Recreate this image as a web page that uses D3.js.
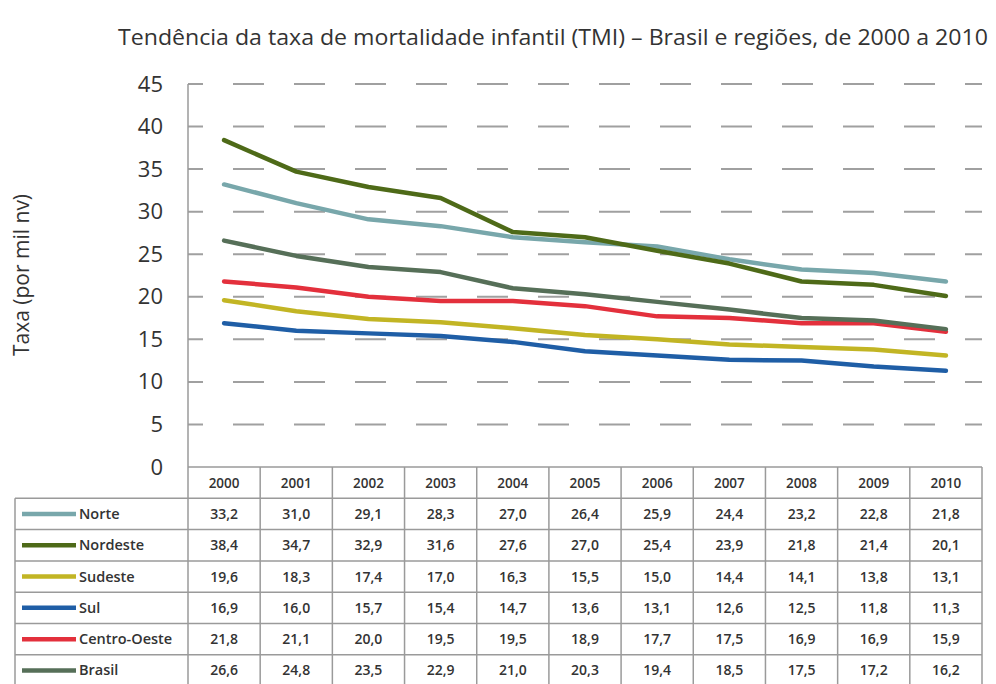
<!DOCTYPE html>
<html>
<head>
<meta charset="utf-8">
<script src="https://cdn.jsdelivr.net/npm/d3@7"></script>
<style>
  body { margin: 0; background: #fff; }
  text { font-family: "Open Sans", "Noto Sans", sans-serif; fill: #333; }
</style>
</head>
<body>
<div id="chart"></div>
<script>
var years = [2000, 2001, 2002, 2003, 2004, 2005, 2006, 2007, 2008, 2009, 2010];
var norte       = [33.2, 31.0, 29.1, 28.3, 27.0, 26.4, 25.9, 24.4, 23.2, 22.8, 21.8];
var nordeste    = [38.4, 34.7, 32.9, 31.6, 27.6, 27.0, 25.4, 23.9, 21.8, 21.4, 20.1];
var sudeste     = [19.6, 18.3, 17.4, 17.0, 16.3, 15.5, 15.0, 14.4, 14.1, 13.8, 13.1];
var sul         = [16.9, 16.0, 15.7, 15.4, 14.7, 13.6, 13.1, 12.6, 12.5, 11.8, 11.3];
var centroOeste = [21.8, 21.1, 20.0, 19.5, 19.5, 18.9, 17.7, 17.5, 16.9, 16.9, 15.9];
var brasil      = [26.6, 24.8, 23.5, 22.9, 21.0, 20.3, 19.4, 18.5, 17.5, 17.2, 16.2];
var seriesNames = ["Norte", "Nordeste", "Sudeste", "Sul", "Centro-Oeste", "Brasil"];
var yTicks = [0, 5, 10, 15, 20, 25, 30, 35, 40, 45];

var series = [
  {name: seriesNames[0], values: norte, color: "#78a7ab"},
  {name: seriesNames[1], values: nordeste, color: "#4e6a18"},
  {name: seriesNames[2], values: sudeste, color: "#c2b524"},
  {name: seriesNames[3], values: sul, color: "#1f5ea6"},
  {name: seriesNames[4], values: centroOeste, color: "#e3303c"},
  {name: seriesNames[5], values: brasil, color: "#566f58"}
];

var width = 996, height = 684;
var plotLeft = 188, plotRight = 982, plotTop = 84, plotBottom = 467;
var rowH = 31.3;
var legendLeft = 15;

var svg = d3.select("#chart").append("svg")
  .attr("width", width)
  .attr("height", height);

var x = d3.scaleBand()
  .domain(years)
  .range([plotLeft, plotRight])
  .padding(0);

var y = d3.scaleLinear()
  .domain([0, 45])
  .range([plotBottom, plotTop]);

var fmt = function (v) { return d3.format(".1f")(v).replace(".", ","); };

// title
svg.append("text")
  .attr("x", 118)
  .attr("y", 45)
  .attr("font-size", "21px")
  .attr("textLength", 870)
  .attr("lengthAdjust", "spacingAndGlyphs")
  .text("Tendência da taxa de mortalidade infantil (TMI) – Brasil e regiões, de 2000 a 2010");

// y axis title
svg.append("text")
  .attr("transform", "translate(29,275) rotate(-90)")
  .attr("text-anchor", "middle")
  .attr("font-size", "21px")
  .text("Taxa (por mil nv)");

// dashed gridlines
svg.append("g")
  .selectAll("line")
  .data(yTicks.filter(d => d > 0))
  .enter().append("line")
    .attr("x1", plotLeft)
    .attr("x2", plotRight)
    .attr("y1", d => y(d))
    .attr("y2", d => y(d))
    .attr("stroke", "#a0a0a0")
    .attr("stroke-width", 2)
    .attr("stroke-dasharray", "31 30")
    .attr("stroke-dashoffset", 16);

// y axis labels
var yAxis = svg.append("g")
  .attr("transform", "translate(" + plotLeft + ",0)")
  .call(d3.axisLeft(y).tickValues(yTicks).tickSize(0).tickPadding(25));
yAxis.select(".domain").remove();
yAxis.selectAll("text")
  .attr("font-size", "22px")
  .attr("font-family", "'Open Sans', sans-serif")
  .attr("fill", "#2a2a2a");

// table grid
var nRows = series.length;
var tableBottom = plotBottom + rowH * (nRows + 1);
var grid = svg.append("g")
  .attr("stroke", "#9a9a9a")
  .attr("stroke-width", 1.5)
  .attr("fill", "none");

grid.append("line")
  .attr("x1", plotLeft).attr("x2", plotRight)
  .attr("y1", plotBottom).attr("y2", plotBottom);
d3.range(1, nRows + 2).forEach(function (i) {
  grid.append("line")
    .attr("x1", legendLeft).attr("x2", plotRight)
    .attr("y1", plotBottom + rowH * i).attr("y2", plotBottom + rowH * i);
});
grid.append("line")
  .attr("x1", plotLeft).attr("x2", plotLeft)
  .attr("y1", plotTop).attr("y2", tableBottom);
grid.append("line")
  .attr("x1", legendLeft).attr("x2", legendLeft)
  .attr("y1", plotBottom + rowH).attr("y2", tableBottom);
years.forEach(function (yr) {
  var xr = x(yr) + x.bandwidth();
  grid.append("line")
    .attr("x1", xr).attr("x2", xr)
    .attr("y1", plotBottom).attr("y2", tableBottom);
});

// header years
svg.append("g")
  .selectAll("text")
  .data(years)
  .enter().append("text")
    .attr("x", d => x(d) + x.bandwidth() / 2)
    .attr("y", plotBottom + rowH / 2 + 5)
    .attr("text-anchor", "middle")
    .attr("font-size", "13.5px")
    .attr("font-weight", "600")
    .text(d => d);

// rows
var rows = svg.append("g")
  .selectAll("g")
  .data(series)
  .enter().append("g")
    .attr("transform", (d, i) => "translate(0," + (plotBottom + rowH * (i + 1)) + ")");

rows.append("line")
  .attr("x1", 22).attr("x2", 76)
  .attr("y1", rowH / 2).attr("y2", rowH / 2)
  .attr("stroke", d => d.color)
  .attr("stroke-width", 4.5);

rows.append("text")
  .attr("x", 79)
  .attr("y", rowH / 2 + 5)
  .attr("font-size", "14.5px")
  .attr("font-weight", "600")
  .text(d => d.name);

rows.selectAll(".val")
  .data(d => d.values.map((v, j) => ({v: v, yr: years[j]})))
  .enter().append("text")
    .attr("class", "val")
    .attr("x", d => x(d.yr) + x.bandwidth() / 2)
    .attr("y", rowH / 2 + 5)
    .attr("text-anchor", "middle")
    .attr("font-size", "14px")
    .attr("font-weight", "600")
    .text(d => fmt(d.v));

// lines
var line = d3.line()
  .x((d, i) => x(years[i]) + x.bandwidth() / 2)
  .y(d => y(d));

svg.append("g")
  .selectAll("path")
  .data(series)
  .enter().append("path")
    .attr("d", d => line(d.values))
    .attr("fill", "none")
    .attr("stroke", d => d.color)
    .attr("stroke-width", 4.5)
    .attr("stroke-linejoin", "round")
    .attr("stroke-linecap", "round");
</script>
</body>
</html>
